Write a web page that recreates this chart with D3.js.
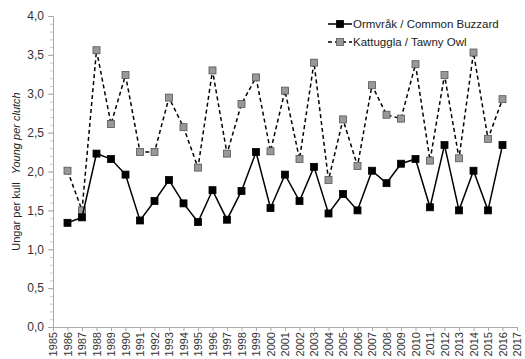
<!DOCTYPE html>
<html>
<head>
<meta charset="utf-8">
<script src="https://cdn.jsdelivr.net/npm/d3@7"></script>
<style>
  body { margin: 0; background: #fff; }
  text { font-family: "Liberation Sans", Arial, sans-serif; fill: #222; }
</style>
</head>
<body>
<div id="chart"></div>
<script>
const years = d3.range(1986, 2017);
// Ormvråk / Common Buzzard
const buzzard = [1.34, 1.41, 2.23, 2.16, 1.96, 1.37, 1.62, 1.89, 1.59, 1.35,
  1.76, 1.38, 1.75, 2.25, 1.53, 1.96, 1.62, 2.06, 1.46, 1.71,
  1.50, 2.01, 1.85, 2.10, 2.16, 1.54, 2.34, 1.50, 2.01, 1.50, 2.34];
// Kattuggla / Tawny Owl
const owl = [2.01, 1.50, 3.56, 2.61, 3.24, 2.25, 2.25, 2.95, 2.57, 2.05,
  3.30, 2.23, 2.87, 3.21, 2.26, 3.04, 2.16, 3.40, 1.89, 2.67,
  2.07, 3.11, 2.73, 2.68, 3.38, 2.14, 3.24, 2.17, 3.53, 2.42, 2.93];
const yTicks = [0, 0.5, 1, 1.5, 2, 2.5, 3, 3.5, 4];
const legendLabels = ["Ormvråk / Common Buzzard", "Kattuggla / Tawny Owl"];

const width = 525, height = 359;
const margin = { top: 16, right: 8, bottom: 32, left: 53 };
const axisColor = "#aaa";

const svg = d3.select("#chart").append("svg")
  .attr("width", width).attr("height", height);

const x = d3.scaleLinear().domain([1985, 2017]).range([margin.left, width - margin.right]);
const y = d3.scaleLinear().domain([0, 4]).range([height - margin.bottom, margin.top]);

const fmt = v => d3.format(".1f")(v).replace(".", ",");

// minor y ticks
const yMinor = svg.append("g").attr("transform", "translate(" + margin.left + ",0)")
  .call(d3.axisLeft(y).tickValues(d3.range(0, 4.01, 0.1)).tickSize(3).tickFormat(""));
yMinor.select(".domain").remove();
yMinor.selectAll("line").attr("stroke", "#ccc");

const yAxis = svg.append("g").attr("transform", "translate(" + margin.left + ",0)")
  .call(d3.axisLeft(y).tickValues(yTicks).tickSize(5).tickPadding(4).tickFormat(fmt));
yAxis.select(".domain").attr("stroke", axisColor);
yAxis.selectAll("line").attr("stroke", axisColor);
yAxis.selectAll("text").attr("font-size", 12).style("fill", "#333");

const xAxis = svg.append("g").attr("transform", "translate(0," + y(0) + ")")
  .call(d3.axisBottom(x).tickValues(d3.range(1985, 2018)).tickSize(4).tickFormat(d3.format("d")));
xAxis.select(".domain").attr("stroke", axisColor);
xAxis.selectAll("line").attr("stroke", axisColor);
xAxis.selectAll("text")
  .attr("font-size", 11).style("fill", "#333")
  .attr("transform", "rotate(-90)")
  .attr("text-anchor", "end")
  .attr("x", -5).attr("y", 0).attr("dy", "0.35em");

// y axis title
const yTitle = svg.append("text")
  .attr("transform", "translate(16," + ((margin.top + y(0)) / 2) + ") rotate(-90)")
  .attr("text-anchor", "middle").attr("font-size", 11).attr("dy", "0.35em");
yTitle.append("tspan").text("Ungar per kull");
yTitle.append("tspan").attr("dx", 8).attr("font-style", "italic").text("Young per clutch");

const line = d3.line().x((d, i) => x(years[i])).y(d => y(d));

const series = [
  { values: owl, dash: "4,3", fill: "#999", stroke: "#555" },
  { values: buzzard, dash: null, fill: "#000", stroke: "#000" }
];

series.forEach(s => {
  svg.append("path").datum(s.values)
    .attr("fill", "none").attr("stroke", "#000").attr("stroke-width", 1.5)
    .attr("stroke-dasharray", s.dash)
    .attr("d", line);
  svg.selectAll(null).data(s.values).enter().append("rect")
    .attr("x", (d, i) => x(years[i]) - 3.5)
    .attr("y", d => y(d) - 3.5)
    .attr("width", 7).attr("height", 7)
    .attr("fill", s.fill).attr("stroke", s.stroke).attr("stroke-width", 0.8);
});

// legend
const legend = svg.append("g").attr("transform", "translate(328,24)");
[series[1], series[0]].forEach((s, i) => {
  const g = legend.append("g").attr("transform", "translate(0," + i * 18 + ")");
  g.append("line").attr("x1", 0).attr("x2", 24).attr("y1", 0).attr("y2", 0)
    .attr("stroke", "#000").attr("stroke-width", 1.5).attr("stroke-dasharray", s.dash);
  g.append("rect").attr("x", 8.5).attr("y", -3.5).attr("width", 7).attr("height", 7)
    .attr("fill", s.fill).attr("stroke", s.stroke).attr("stroke-width", 0.8);
  g.append("text").attr("x", 25).attr("dy", "0.35em").attr("font-size", 11.5)
    .text(legendLabels[i]);
});
</script>
</body>
</html>
